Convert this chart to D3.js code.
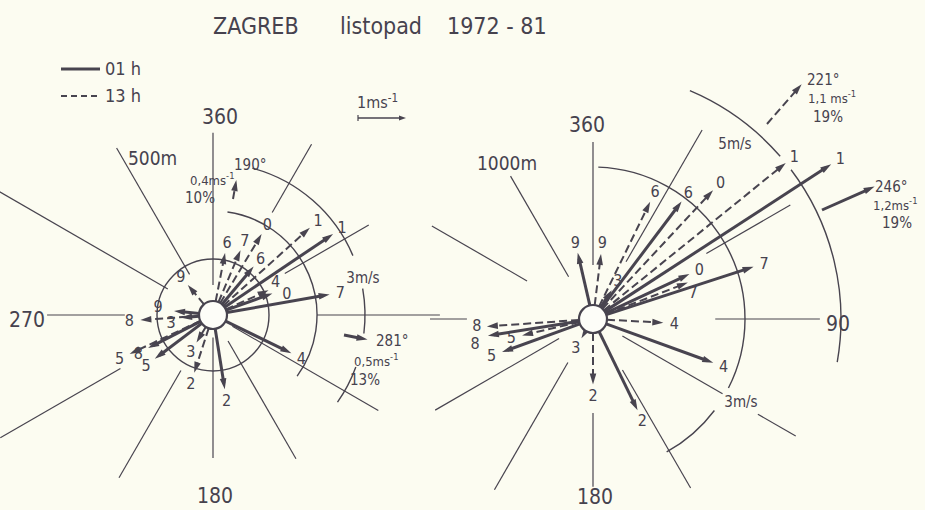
<!DOCTYPE html>
<html>
<head>
<meta charset="utf-8">
<script src="https://cdn.jsdelivr.net/npm/d3@7"></script>
<style>
body { margin: 0; background: #fcfcf1; }
svg text { font-family: 'Liberation Sans Narrow', 'DejaVu Sans Condensed', 'DejaVu Sans', sans-serif; fill: #46424e; }
</style>
</head>
<body>
<script>
// ZAGREB, listopad (November) 1972-81 : mean wind vectors per year at 500 m and 1000 m
// year labels = last digit of the year
var years = ["2", "3", "4", "5", "6", "7", "8", "9", "0", "1"];

// 500 m, 01 h (solid) : wind direction (deg, from) and speed (m/s)
var dir500_01 = [351, 85, 296, 53, 220, 260, 63, 96, 250, 236];
var spd500_01 = [1.4, 0.5, 1.65, 1.35, 1.15, 2.3, 1.35, 0.65, 1.15, 2.85];
// 500 m, 13 h (dashed)
var dir500_13 = [18, 31, 246, 65, 191, 203, 86, 140, 211, 228];
var spd500_13 = [1.1, 0.5, 1.1, 1.75, 1.15, 1.3, 1.35, 0.65, 1.8, 2.55];

// 1000 m, 01 h (solid)
var dir1000_01 = [334, 213, 290, 70, 217, 252, 81, 167, 245, 237];
var spd1000_01 = [1.95, 0.55, 2.5, 1.85, 2.9, 3.35, 2.05, 1.25, 2.05, 5.75];
// 1000 m, 13 h (dashed)
var dir1000_13 = [360, 31, 273, 77, 206, 249, 86, 187, 223, 231];
var spd1000_13 = [1.2, 0.3, 1.3, 1.35, 2.55, 1.95, 2.05, 1.2, 3.5, 5.0];

// resultant vectors [01 h, 13 h]
var meanDir500 = [281, 190], meanSpd500 = [0.5, 0.4], meanPct500 = [13, 10];
var meanDir1000 = [246, 221], meanSpd1000 = [1.2, 1.1], meanPct1000 = [19, 19];

var spokeDirs = [0, 30, 60, 90, 120, 150, 180, 210, 240, 270, 300, 330];

// ---------------------------------------------------------------
var W = 925, H = 510;
var ink = "#48444f";

var svg = d3.select("body").append("svg")
	.attr("width", W)
	.attr("height", H);
svg.append("rect").attr("width", W).attr("height", H).attr("fill", "#fcfcf1");

// radial scale (m/s -> px), same for both roses
var rScale = d3.scaleLinear().domain([0, 5]).range([8, 248]);
var hubR = 14;

function pol(cx, cy, deg, r) {
	var a = deg * Math.PI / 180;
	return [cx + r * Math.sin(a), cy - r * Math.cos(a)];
}

// arrow from p0 to p1 (px), head at p1
function arrow(g, p0, p1, dashed, w) {
	var dx = p1[0] - p0[0], dy = p1[1] - p0[1];
	var L = Math.sqrt(dx * dx + dy * dy);
	var ux = dx / L, uy = dy / L;
	var hl = 11, hw = 3.3;
	g.append("line")
		.attr("x1", p0[0]).attr("y1", p0[1])
		.attr("x2", p1[0] - ux * 6).attr("y2", p1[1] - uy * 6)
		.attr("stroke", ink)
		.attr("stroke-width", w)
		.attr("stroke-dasharray", dashed ? "8,4" : null);
	var bx = p1[0] - ux * hl, by = p1[1] - uy * hl;
	g.append("path")
		.attr("d", "M" + p1[0] + "," + p1[1] +
			"L" + (bx - uy * hw) + "," + (by + ux * hw) +
			"L" + (bx + uy * hw) + "," + (by - ux * hw) + "Z")
		.attr("fill", ink);
}

function msText(g, x, y, pre, size) {
	var t = g.append("text").attr("x", x).attr("y", y).attr("font-size", size);
	t.append("tspan").text(pre + "ms");
	t.append("tspan").attr("dy", -6).attr("font-size", size * 0.72).text("-1");
	return t;
}

// layout of the two roses (spoke extents / arcs given in m/s)
var roses = [
	{
		cx: 213, cy: 315, name: "500m", nameX: 128, nameY: 165,
		d01: dir500_01, s01: spd500_01, d13: dir500_13, s13: spd500_13,
		spokeIn:  [0.46, 2.3, 1.56, 2.0, 0.3, 0.46, 0.3, 1.17, 2.06, 1.67, 0.92, 0.81],
		spokeOut: [3.63, 3.94, 3.58, 4.56, 3.81, 3.29, 2.81, 3.75, 4.95, 3.29, 4.98, 3.85],
		spokeGaps: [],
		arcs: [[1, 0, 360], [2, 8, 126], [3, 15, 67], [3, 80, 97], [3, 110, 125]],
		labels: [["360", 220, 124], ["270", 27, 327], ["180", 215, 503]],
		speedLbl: [["3m/s", 363, 283]],
		nudge01: {1: [1, 4], 7: [-5, -3], 8: [4, 4]}, nudge13: {2: [-3, -4]},
		meanDir: meanDir500, meanSpd: meanSpd500, meanPct: meanPct500,
		meanAt: [[344, 335], [233, 199]],
		meanSep: ["", ""],
		meanTxt: [[[376, 346], [354, 366], [350, 385]], [[234, 170], [190, 185], [185, 203]]]
	},
	{
		cx: 593, cy: 319, name: "1000m", nameX: 477, nameY: 170,
		d01: dir1000_01, s01: spd1000_01, d13: dir1000_13, s13: spd1000_13,
		spokeIn:  [0.96, 1.21, 2.56, 2.38, 0.54, 1.06, 1.79, 0.88, 0.65, 2.46, 1.42, 0.85],
		spokeOut: [3.52, 4.38, 4.58, 4.56, 4.71, 3.9, 3.33, 3.94, 3.63, 3.23, 3.71, 3.27],
		spokeGaps: [[4, 2.95, 3.8]],
		arcs: [[3, 2, 117], [3, 127, 151], [5, 23, 49], [5, 53, 100]],
		labels: [["360", 587, 132], ["90", 838, 331], ["180", 595, 504]],
		speedLbl: [["3m/s", 741, 407], ["5m/s", 735, 149]],
		nudge01: {6: [-2, 6]}, nudge13: {5: [-5, 14], 6: [1, -2]},
		meanDir: meanDir1000, meanSpd: meanSpd1000, meanPct: meanPct1000,
		meanAt: [[822, 210], [767, 124]],
		meanSep: ["", " "],
		meanTxt: [[[875, 192], [873, 210], [882, 228]], [[807, 85], [808, 103], [813, 122]]]
	}
];

roses.forEach(function(R) {
	var g = svg.append("g");

	// spokes every 30 deg (some broken to leave room for a label)
	spokeDirs.forEach(function(d, i) {
		var pieces = [[R.spokeIn[i], R.spokeOut[i]]];
		R.spokeGaps.forEach(function(gp) {
			if (gp[0] === i) pieces = [[R.spokeIn[i], gp[1]], [gp[2], R.spokeOut[i]]];
		});
		pieces.forEach(function(pc) {
			var a = pol(R.cx, R.cy, d, rScale(pc[0]));
			var b = pol(R.cx, R.cy, d, rScale(pc[1]));
			g.append("line")
				.attr("x1", a[0]).attr("y1", a[1]).attr("x2", b[0]).attr("y2", b[1])
				.attr("stroke", ink).attr("stroke-width", 1.2);
		});
	});

	// speed circles
	R.arcs.forEach(function(c) {
		var r = rScale(c[0]);
		var arc = d3.arc().innerRadius(r).outerRadius(r)
			.startAngle(c[1] * Math.PI / 180).endAngle(c[2] * Math.PI / 180);
		g.append("path")
			.attr("transform", "translate(" + R.cx + "," + R.cy + ")")
			.attr("d", arc())
			.attr("fill", "none").attr("stroke", ink).attr("stroke-width", 1.4);
	});

	// yearly vectors: solid = 01 h, dashed = 13 h
	[[R.d01, R.s01, false, R.nudge01], [R.d13, R.s13, true, R.nudge13]].forEach(function(set) {
		set[0].forEach(function(dir, i) {
			var b = (dir + 180) % 360;
			var tip = rScale(set[1][i]);
			arrow(g, pol(R.cx, R.cy, b, hubR), pol(R.cx, R.cy, b, tip), set[2], set[2] ? 2 : 3);
			var lp = pol(R.cx, R.cy, b, tip + 11);
			var nd = set[3][i] || [0, 0];
			g.append("text")
				.attr("x", lp[0] + nd[0]).attr("y", lp[1] + nd[1])
				.attr("text-anchor", "middle").attr("dominant-baseline", "central")
				.attr("font-size", 16)
				.text(years[i]);
		});
	});

	// hub
	g.append("circle").attr("cx", R.cx).attr("cy", R.cy).attr("r", hubR)
		.attr("fill", "#fdfdf8").attr("stroke", ink).attr("stroke-width", 2.2);

	// direction labels
	R.labels.forEach(function(l) {
		g.append("text").attr("x", l[1]).attr("y", l[2])
			.attr("text-anchor", "middle").attr("font-size", 21).text(l[0]);
	});
	g.append("text").attr("x", R.nameX).attr("y", R.nameY).attr("font-size", 19).text(R.name);

	R.speedLbl.forEach(function(l) {
		g.append("text").attr("x", l[1]).attr("y", l[2])
			.attr("text-anchor", "middle").attr("font-size", 15).text(l[0]);
	});

	// resultant vectors with their text
	R.meanDir.forEach(function(d, k) {
		var p0 = R.meanAt[k];
		var len = rScale(R.meanSpd[k]) - rScale(0);
		var p1 = pol(p0[0], p0[1], (d + 180) % 360, len);
		arrow(g, p0, p1, k === 1, k === 1 ? 2 : 3);
		var tx = R.meanTxt[k];
		g.append("text").attr("x", tx[0][0]).attr("y", tx[0][1]).attr("font-size", 15).text(d + "°");
		msText(g, tx[1][0], tx[1][1], String(R.meanSpd[k]).replace(".", ",") + R.meanSep[k], 13);
		g.append("text").attr("x", tx[2][0]).attr("y", tx[2][1]).attr("font-size", 15).text(R.meanPct[k] + "%");
	});
});

// title
var title = svg.append("g");
title.append("text").attr("x", 213).attr("y", 34).attr("font-size", 23).text("ZAGREB");
title.append("text").attr("x", 340).attr("y", 34).attr("font-size", 23).text("listopad");
title.append("text").attr("x", 447).attr("y", 34).attr("font-size", 23).text("1972 - 81");

// legend
var leg = svg.append("g");
leg.append("line").attr("x1", 61).attr("x2", 100).attr("y1", 69).attr("y2", 69)
	.attr("stroke", ink).attr("stroke-width", 3);
leg.append("line").attr("x1", 61).attr("x2", 100).attr("y1", 96).attr("y2", 96)
	.attr("stroke", ink).attr("stroke-width", 2).attr("stroke-dasharray", "6,4");
leg.append("text").attr("x", 105).attr("y", 75).attr("font-size", 18).text("01 h");
leg.append("text").attr("x", 105).attr("y", 102).attr("font-size", 18).text("13 h");

// 1 m/s reference
msText(leg, 357, 108, "1", 16);
var p0 = [358, 118], p1 = [358 + rScale(1) - rScale(0), 118];
leg.append("line").attr("x1", p0[0]).attr("x2", p0[0]).attr("y1", 115).attr("y2", 121)
	.attr("stroke", ink).attr("stroke-width", 1.2);
leg.append("line").attr("x1", p0[0]).attr("x2", p1[0] - 4).attr("y1", 118).attr("y2", 118)
	.attr("stroke", ink).attr("stroke-width", 1.3);
leg.append("path")
	.attr("d", "M" + p1[0] + ",118L" + (p1[0] - 7) + ",115.5L" + (p1[0] - 7) + ",120.5Z")
	.attr("fill", ink);
</script>
</body>
</html>
